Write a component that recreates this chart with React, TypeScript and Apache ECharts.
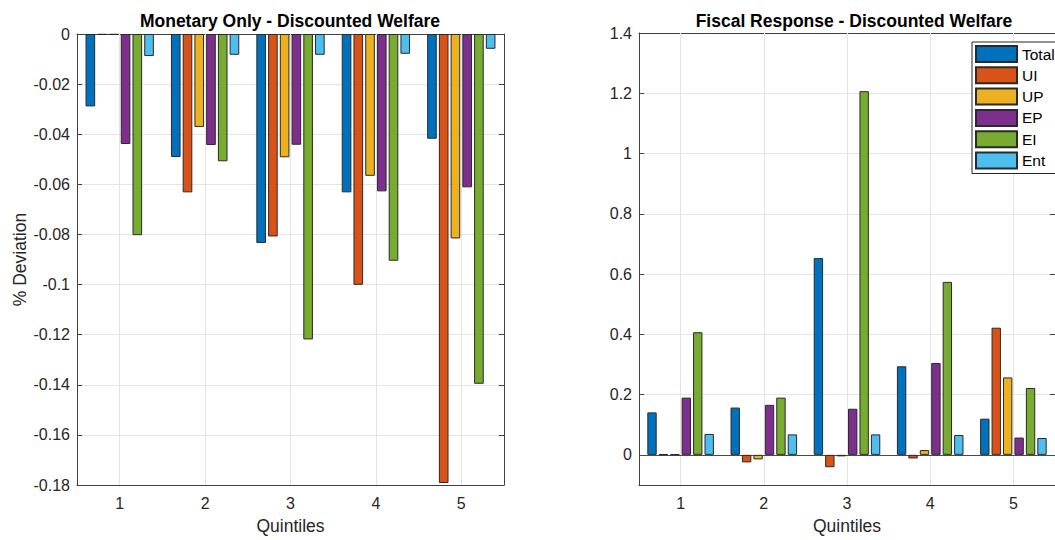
import React, { useEffect, useRef } from "react";
import * as echarts from "echarts";

const categories = ["1", "2", "3", "4", "5"];
const seriesNames = ["Total", "UI", "UP", "EP", "EI", "Ent"];
const seriesColors = ["#0072BD", "#D95319", "#EDB120", "#7E2F8E", "#77AC30", "#4DBEEE"];

// Monetary Only - Discounted Welfare
const monTotal = [-0.0289, -0.0491, -0.0834, -0.0632, -0.0418];
const monUI = [-0.0003, -0.0632, -0.0808, -0.1001, -0.1792];
const monUP = [-0.0003, -0.0371, -0.0492, -0.0566, -0.0816];
const monEP = [-0.0439, -0.0443, -0.0442, -0.0628, -0.0612];
const monEI = [-0.0803, -0.0508, -0.1219, -0.0905, -0.1396];
const monEnt = [-0.0088, -0.0083, -0.0083, -0.0079, -0.0059];

// Fiscal Response - Discounted Welfare
const fisTotal = [0.141, 0.157, 0.653, 0.294, 0.12];
const fisUI = [0.002, -0.025, -0.041, -0.012, 0.422];
const fisUP = [0.002, -0.015, -0.005, 0.016, 0.257];
const fisEP = [0.19, 0.166, 0.153, 0.305, 0.0575];
const fisEI = [0.407, 0.19, 1.207, 0.574, 0.222];
const fisEnt = [0.0695, 0.068, 0.068, 0.066, 0.056];

const monData = [monTotal, monUI, monUP, monEP, monEI, monEnt];
const fisData = [fisTotal, fisUI, fisUP, fisEP, fisEI, fisEnt];

const FONT = "'Liberation Sans', Arial, Helvetica, sans-serif";
const AXIS_COLOR = "#404040";
const TEXT_COLOR = "#262626";
const GRID_COLOR = "#e4e4e4";
const TICK_FONT = 16;
const NAME_FONT = 17.5;

export default function App() {
  const ref = useRef<HTMLDivElement>(null);

  useEffect(() => {
    if (!ref.current) return;
    const chart = echarts.init(ref.current, null, { renderer: "svg" });

    const bottomX = (gridIndex: number, withName: boolean) => ({
      type: "category",
      gridIndex,
      position: "bottom",
      data: categories,
      boundaryGap: true,
      axisLine: { show: true, onZero: false, lineStyle: { color: AXIS_COLOR, width: 1 } },
      axisTick: { show: true, inside: true, alignWithLabel: true, length: 5, lineStyle: { color: AXIS_COLOR } },
      axisLabel: { show: true, margin: 10, fontSize: TICK_FONT, fontFamily: FONT, color: TEXT_COLOR },
      splitLine: { show: false },
      name: withName ? "Quintiles" : "",
      nameLocation: "middle",
      nameGap: 32,
      nameTextStyle: { fontSize: NAME_FONT, fontFamily: FONT, color: TEXT_COLOR },
    });
    const topX = (gridIndex: number) => ({
      type: "category",
      gridIndex,
      position: "top",
      data: categories,
      boundaryGap: true,
      axisLine: { show: true, onZero: false, lineStyle: { color: AXIS_COLOR, width: 1 } },
      axisTick: { show: true, inside: true, alignWithLabel: true, length: 5, lineStyle: { color: AXIS_COLOR } },
      axisLabel: { show: false },
      splitLine: { show: false },
    });

    const yCommon = {
      type: "value",
      axisLine: { show: true, onZero: false, lineStyle: { color: AXIS_COLOR, width: 1 } },
      axisTick: { show: true, inside: true, length: 5, lineStyle: { color: AXIS_COLOR } },
    };

    const series: any[] = [];
    seriesNames.forEach((name, i) => {
      series.push({
        type: "bar",
        name,
        xAxisIndex: 0,
        yAxisIndex: 0,
        data: monData[i],
        barCategoryGap: "20%",
        barGap: "22%",
        itemStyle: { color: seriesColors[i], borderColor: "#2a2a2a", borderWidth: 1 },
        z: 2,
      });
    });
    seriesNames.forEach((name, i) => {
      series.push({
        type: "bar",
        name,
        xAxisIndex: 2,
        yAxisIndex: 2,
        data: fisData[i],
        barCategoryGap: "20%",
        barGap: "22%",
        itemStyle: { color: seriesColors[i], borderColor: "#2a2a2a", borderWidth: 1 },
        z: 2,
      });
    });

    const gridLines = (xi: number, yi: number, baseline: boolean) => ({
      type: "line",
      name: "__grid" + xi,
      xAxisIndex: xi,
      yAxisIndex: yi,
      data: [],
      silent: true,
      markLine: {
        silent: true,
        z: 1,
        symbol: ["none", "none"],
        label: { show: false },
        lineStyle: { color: GRID_COLOR, type: "solid", width: 1 },
        data: [
          ...categories.map((c) => ({ xAxis: c })),
          ...(baseline
            ? [{ yAxis: 0, lineStyle: { color: "#4a4a4a", type: "solid", width: 1 } }]
            : []),
        ],
      },
    });
    series.push(gridLines(0, 0, false));
    series.push(gridLines(2, 2, true));

    const option: any = {
      animation: false,
      backgroundColor: "#ffffff",
      textStyle: { fontFamily: FONT },
      grid: [
        { left: 77, top: 34, width: 427, height: 457, containLabel: false },
        { left: 639, top: 33, width: 430, height: 458, containLabel: false },
      ],
      legend: {
        data: seriesNames,
        orient: "vertical",
        left: 972,
        top: 42,
        padding: [3, 45, 4, 3],
        itemGap: 3.3,
        itemWidth: 41,
        itemHeight: 16,
        icon: "rect",
        borderColor: "#262626",
        borderWidth: 1,
        backgroundColor: "#ffffff",
        textStyle: { fontSize: 15.5, lineHeight: 16, fontFamily: FONT, color: "#000" },
      },
      xAxis: [bottomX(0, true), topX(0), bottomX(1, true), topX(1)],
      yAxis: [
        {
          ...yCommon,
          gridIndex: 0,
          position: "left",
          min: -0.18,
          max: 0,
          interval: 0.02,
          axisLabel: { margin: 7, fontSize: TICK_FONT, fontFamily: FONT, color: TEXT_COLOR },
          splitLine: { show: true, lineStyle: { color: GRID_COLOR, width: 1 } },
          name: "% Deviation",
          nameLocation: "middle",
          nameGap: 48,
          nameRotate: 90,
          nameTextStyle: { fontSize: NAME_FONT, fontFamily: FONT, color: TEXT_COLOR },
        },
        {
          ...yCommon,
          gridIndex: 0,
          position: "right",
          min: -0.18,
          max: 0,
          interval: 0.02,
          axisLabel: { show: false },
          splitLine: { show: false },
        },
        {
          ...yCommon,
          gridIndex: 1,
          position: "left",
          min: -0.1,
          max: 1.4,
          splitNumber: 7,
          axisLabel: {
            margin: 7,
            fontSize: TICK_FONT,
            fontFamily: FONT,
            color: TEXT_COLOR,
            formatter: (v: number) => (v < -1e-9 ? "" : String(Math.round(v * 10) / 10)),
          },
          splitLine: { show: true, lineStyle: { color: GRID_COLOR, width: 1 } },
        },
        {
          ...yCommon,
          gridIndex: 1,
          position: "right",
          min: -0.1,
          max: 1.4,
          splitNumber: 7,
          axisLabel: { show: false },
          splitLine: { show: false },
        },
      ],
      graphic: [
        {
          type: "text",
          x: 290,
          y: 21,
          style: {
            text: "Monetary Only - Discounted Welfare",
            font: `bold 17.5px ${FONT}`,
            fill: "#000",
            textAlign: "center",
            textVerticalAlign: "middle",
            align: "center",
            verticalAlign: "middle",
          },
        },
        {
          type: "text",
          x: 854,
          y: 21,
          style: {
            text: "Fiscal Response - Discounted Welfare",
            font: `bold 17.5px ${FONT}`,
            fill: "#000",
            textAlign: "center",
            textVerticalAlign: "middle",
            align: "center",
            verticalAlign: "middle",
          },
        },
      ],
      series,
    };

    chart.setOption(option);
    return () => {
      chart.dispose();
    };
  }, []);

  return (
    <div
      style={{ position: "fixed", left: 0, top: 0, width: 1055, height: 540, overflow: "hidden", background: "#fff" }}
    >
      <div ref={ref} style={{ width: 1055, height: 540 }} />
    </div>
  );
}
